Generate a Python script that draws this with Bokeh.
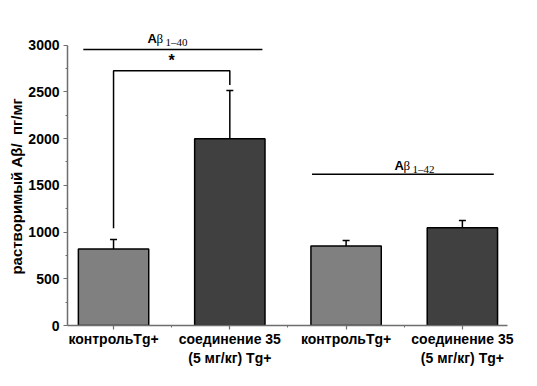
from bokeh.plotting import figure
from bokeh.models import ColumnDataSource, FixedTicker, Whisker, TeeHead, Range1d
from bokeh.core.properties import value
from bokeh.embed import file_html
from bokeh.resources import INLINE

# data
positions = [1, 2, 3, 4]
tick_labels = ["контрольTg+", "соединение 35\n(5 мг/кг) Tg+", "контрольTg+", "соединение 35\n(5 мг/кг) Tg+"]
values = [820, 2000, 850, 1045]
errors = [100, 515, 60, 80]
colors = ["#808080", "#404040", "#808080", "#404040"]
y_ticks = [0, 500, 1000, 1500, 2000, 2500, 3000]
y_minor = [250, 750, 1250, 1750, 2250, 2750]
y_title = "растворимый Aβ/\u00a0 пг/мг"

upper = [v + e for v, e in zip(values, errors)]
lower = [v - e for v, e in zip(values, errors)]
src = ColumnDataSource(dict(x=positions, top=values, upper=upper, lower=lower, color=colors))

p = figure(width=530, height=380, x_range=Range1d(0.604, 4.388), y_range=Range1d(0, 3200),
           output_backend="svg", toolbar_location=None,
           min_border_left=67, min_border_right=23, min_border_top=26, min_border_bottom=55)
p.outline_line_color = None
p.grid.grid_line_color = None
p.background_fill_color = "white"

p.vbar(x="x", top="top", width=0.605, bottom=0, fill_color="color", line_color="black",
       line_width=1.5, source=src)

w = Whisker(base="x", upper="upper", lower="lower", source=src, line_color="black", line_width=1.5,
            upper_head=TeeHead(size=7, line_width=1.5, line_color="black"),
            lower_head=TeeHead(size=7, line_width=1.5, line_color="black"))
p.add_layout(w)

# axes
ya = p.yaxis[0]
ya.ticker = FixedTicker(ticks=y_ticks, minor_ticks=y_minor)
ya.bounds = (0, 3000)
ya.major_label_text_font = "Liberation Sans"
ya.major_label_text_font_style = "bold"
ya.major_label_text_font_size = "14px"
ya.major_label_standoff = 4
ya.axis_label = y_title + "\u00a0" * 5
ya.axis_label_text_font = "Liberation Sans"
ya.axis_label_text_font_style = "bold"
ya.axis_label_text_font_size = "15px"
ya.axis_label_text_color = "black"
ya.axis_label_standoff = 0

xa = p.xaxis[0]
xa.ticker = FixedTicker(ticks=positions, minor_ticks=[1.5, 2.5, 3.5])
xa.major_label_overrides = {pos: lab for pos, lab in zip(positions, tick_labels)}
xa.major_label_text_font = "Liberation Sans"
xa.major_label_text_font_style = "bold"
xa.major_label_text_font_size = "14px"
xa.major_label_standoff = 1

for ax in (xa, ya):
    ax.axis_line_color = "#6e6e6e"
    ax.axis_line_width = 1.5
    ax.major_tick_line_color = "#6e6e6e"
    ax.minor_tick_line_color = "#6e6e6e"
    ax.major_tick_line_width = 1.2
    ax.minor_tick_line_width = 1
    ax.major_tick_in = 0
    ax.major_tick_out = 4
    ax.minor_tick_in = 0
    ax.minor_tick_out = 2
    ax.major_label_text_color = "black"

# annotations: group lines
p.line(x=[0.74, 2.28], y=[2955, 2955], line_color="black", line_width=1.5)
p.line(x=[2.707, 4.27], y=[1620, 1620], line_color="black", line_width=1.5)
# significance bracket
p.line(x=[1, 1, 2, 2], y=[1042, 2726, 2726, 2573], line_color="black", line_width=1.5)
p.text(x=[1.5], y=[2840], text=["*"], text_align="center", text_baseline="middle",
       text_font=value("Liberation Sans"), text_font_style="bold", text_font_size="16px",
       text_color="black")

# group labels A beta
for gx, gy, sub in [(1.469, 3075, "1–40"), (3.593, 1716, "1–42")]:
    p.text(x=[gx], y=[gy], text=["A"], x_offset=-20.5, text_align="left", text_baseline="alphabetic",
           text_font=value("Liberation Sans"), text_font_style="bold", text_font_size="13px",
           text_color="black")
    p.text(x=[gx], y=[gy], text=["β"], x_offset=-11.5, text_align="left", text_baseline="alphabetic",
           text_font=value("Liberation Serif"), text_font_size="13px", text_color="black")
    p.text(x=[gx], y=[gy], text=[sub], x_offset=-2.5, y_offset=4, text_align="left",
           text_baseline="alphabetic", text_font=value("Liberation Serif"), text_font_size="11px",
           text_color="black")

open("out.html", "w").write(file_html(p, INLINE))
